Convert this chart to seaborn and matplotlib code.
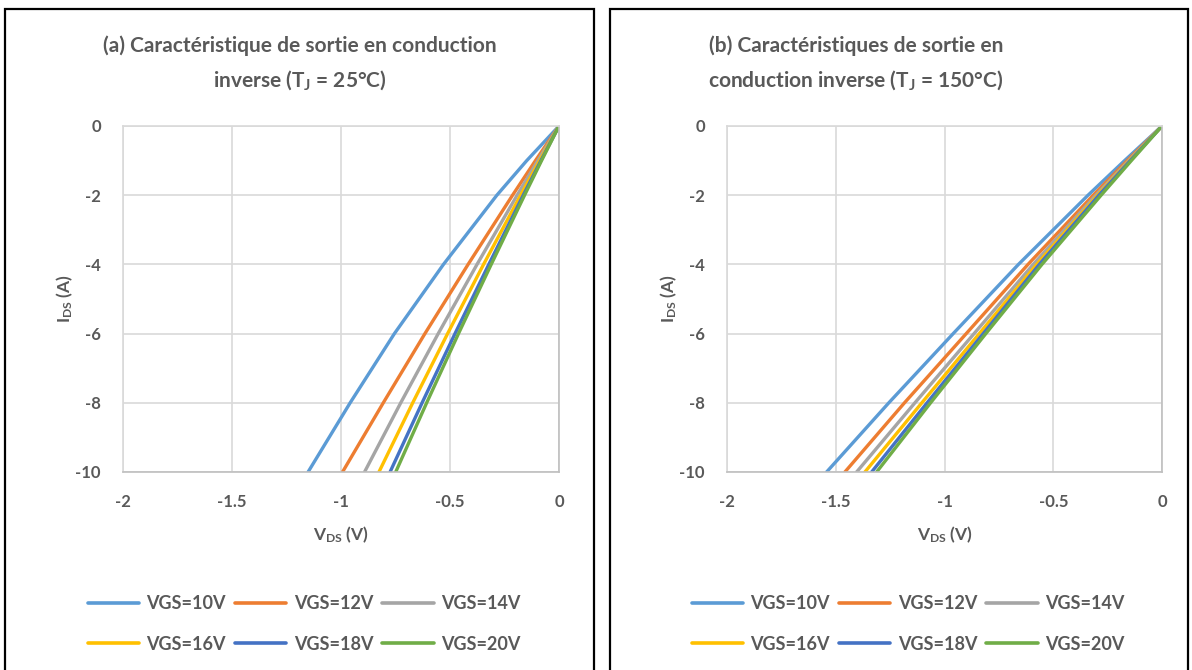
import numpy as np
import pandas as pd
import seaborn as sns
import matplotlib.pyplot as plt
from matplotlib.patches import Rectangle

i_ds = [0, -1, -2, -4, -6, -8, -10]
vgs = ['VGS=10V', 'VGS=12V', 'VGS=14V', 'VGS=16V', 'VGS=18V', 'VGS=20V']
colors = ['#5B9BD5', '#ED7D31', '#A5A5A5', '#FFC000', '#4472C4', '#70AD47']

# V_DS (V) for each VGS, Tj = 25 C
v_25 = [
    [0, -0.148, -0.285, -0.53, -0.755, -0.958, -1.151],
    [0, -0.108, -0.213, -0.417, -0.615, -0.806, -0.993],
    [0, -0.097, -0.192, -0.376, -0.554, -0.726, -0.892],
    [0, -0.089, -0.176, -0.346, -0.511, -0.671, -0.826],
    [0, -0.083, -0.164, -0.322, -0.477, -0.628, -0.775],
    [0, -0.080, -0.158, -0.311, -0.461, -0.607, -0.749],
]
# V_DS (V) for each VGS, Tj = 150 C
v_150 = [
    [0, -0.172, -0.34, -0.66, -0.96, -1.256, -1.542],
    [0, -0.160, -0.316, -0.616, -0.90, -1.184, -1.458],
    [0, -0.153, -0.304, -0.592, -0.864, -1.136, -1.404],
    [0, -0.149, -0.296, -0.576, -0.84, -1.104, -1.366],
    [0, -0.146, -0.29, -0.564, -0.822, -1.08, -1.335],
    [0, -0.141, -0.28, -0.552, -0.81, -1.064, -1.312],
]

titles = ['(a) Caractéristique de sortie en conduction\ninverse ($\\mathbf{T_J}$ = 25°C)',
          '(b) Caractéristiques de sortie en\nconduction inverse ($\\mathbf{T_J}$ = 150°C)']


def to_frame(v_sets):
    rows = []
    for name, vs in zip(vgs, v_sets):
        for i, v in zip(i_ds, vs):
            rows.append({'VGS': name, 'V': v, 'I': i})
    return pd.DataFrame(rows)


sns.set_theme(style='white')
txt = '#595959'
plt.rcParams['font.family'] = ['Lato', 'DejaVu Sans']
plt.rcParams['font.weight'] = 'bold'
plt.rcParams['mathtext.fontset'] = 'custom'
plt.rcParams['mathtext.rm'] = 'Lato'
plt.rcParams['mathtext.bf'] = 'Lato:bold'
plt.rcParams['text.color'] = txt
plt.rcParams['axes.labelcolor'] = txt
plt.rcParams['xtick.color'] = txt
plt.rcParams['ytick.color'] = txt

W, H = 1192, 670
fig = plt.figure(figsize=(W / 100, H / 100), dpi=100)

panels = [
    # plot box (px), frame (px), title centre x, legend centre x
    dict(v=v_25, box=(123, 126, 559, 472), frame=(5, 9, 594), tx=300, lx=304),
    dict(v=v_150, box=(727, 126, 1162, 472), frame=(610, 9, 1188), tx=856, lx=908),
]

# matplotlib fills legend columns first; reorder so entries run row by row
order = [0, 3, 1, 4, 2, 5]
y_ticks = [0, -2, -4, -6, -8, -10]

for k, p in enumerate(panels):
    x0, y0, x1, y1 = p['box']
    ax = fig.add_axes([x0 / W, 1 - y1 / H, (x1 - x0) / W, (y1 - y0) / H])
    sns.lineplot(data=to_frame(p['v']), x='V', y='I', hue='VGS', hue_order=vgs,
                 palette=colors, sort=False, estimator=None, lw=2.4, ax=ax)
    ax.set_xlim(-2, 0)
    ax.set_ylim(-10, 0)
    ax.set_xticks([-2, -1.5, -1, -0.5, 0])
    ax.set_xticklabels(['-2', '-1.5', '-1', '-0.5', '0'])
    ax.set_yticks(y_ticks)
    ax.set_yticklabels([str(i) for i in y_ticks])
    ax.tick_params(length=0, labelsize=12, pad=16)
    ax.grid(True, color='#D9D9D9', lw=1.2)
    for s in ['left', 'top']:
        ax.spines[s].set_color('#D9D9D9')
    for s in ['right', 'bottom']:
        ax.spines[s].set_color('#BFBFBF')
    for s in ax.spines.values():
        s.set_linewidth(1.2)
    ax.set_xlabel('$\\mathbf{V_{DS}}$ (V)', fontsize=12.5, fontweight='bold')
    ax.set_ylabel('$\\mathbf{I_{DS}}$ (A)', fontsize=12.5, fontweight='bold')
    ax.xaxis.set_label_coords(0.5, -0.152)
    ax.yaxis.set_label_coords(-0.11, 0.5)

    leg = ax.get_legend()
    handles = leg.legend_handles
    labels = [t.get_text() for t in leg.get_texts()]
    leg.remove()
    new = ax.legend([handles[j] for j in order], [labels[j] for j in order],
                    loc='upper center', bbox_to_anchor=(p['lx'] / W, 1 - 579 / H),
                    bbox_transform=fig.transFigure, ncol=3, frameon=False,
                    fontsize=13, handlelength=2.85, handletextpad=0.4,
                    columnspacing=0.5, labelspacing=1.3)
    for line in new.get_lines():
        line.set_linewidth(2.6)

    fig.text(p['tx'] / W, 1 - 64 / H, titles[k], ha='center', va='center',
             fontsize=15, fontweight='bold', linespacing=1.65, color=txt)

    fx0, fy0, fx1 = p['frame']
    fig.add_artist(Rectangle((fx0 / W, -0.05), (fx1 - fx0) / W, 1 - fy0 / H + 0.05,
                             transform=fig.transFigure, fill=False,
                             edgecolor='black', lw=1.6))

fig.savefig('out.png', dpi=100)
